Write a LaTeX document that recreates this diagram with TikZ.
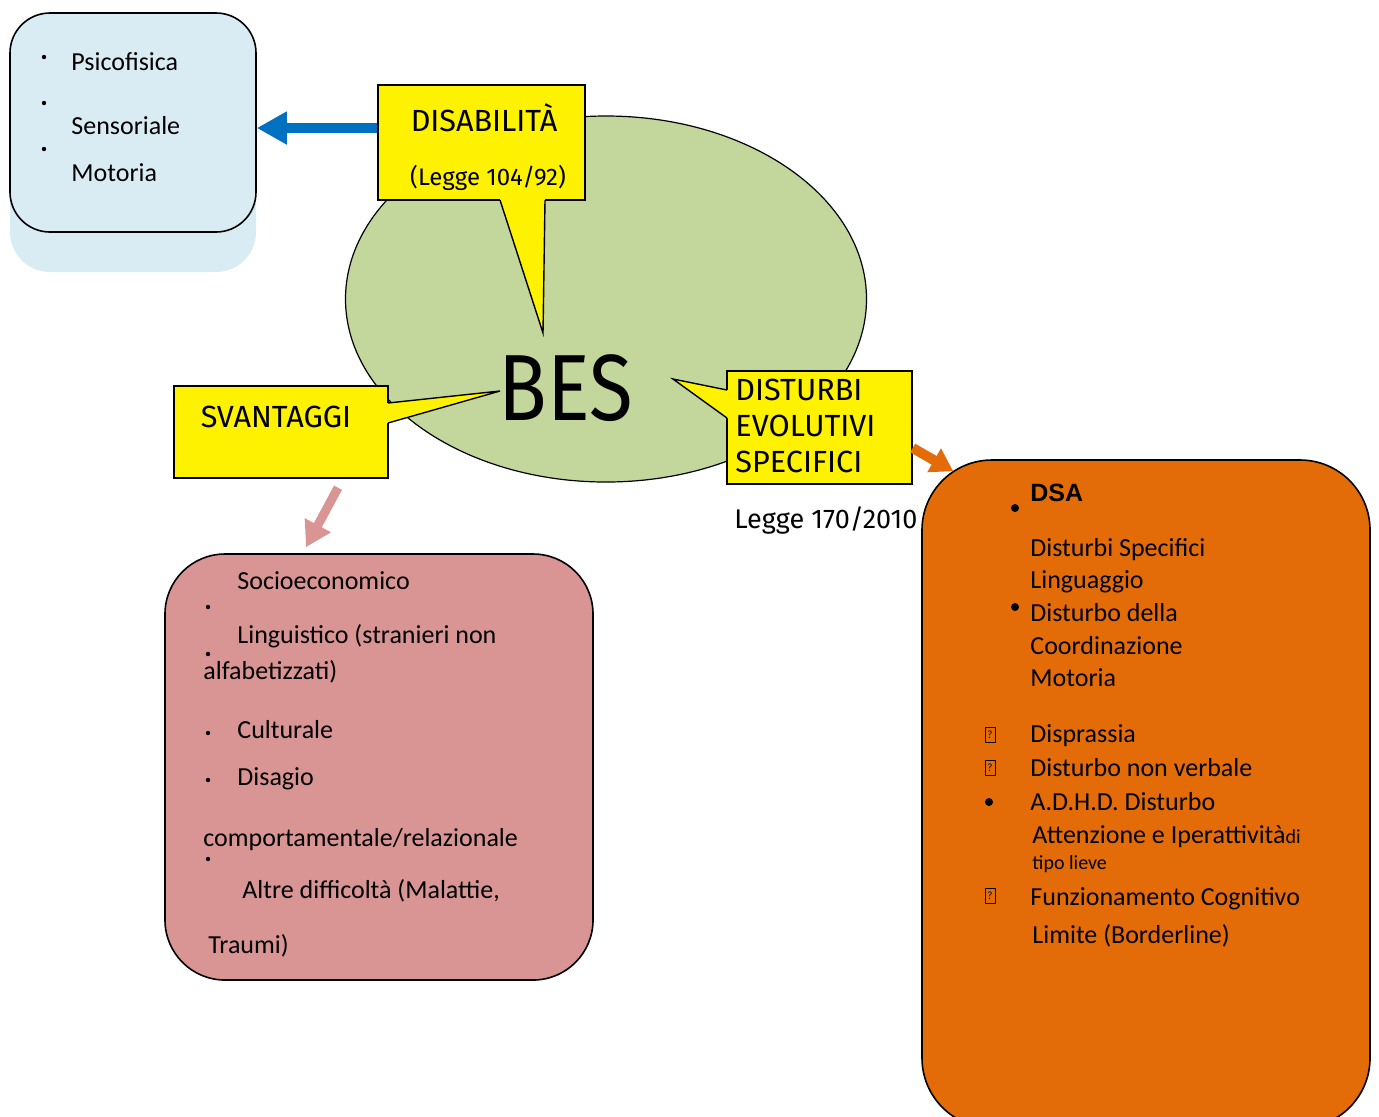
\documentclass[tikz,border=0pt]{standalone}
\usepackage{fontspec}
\setmainfont{Carlito}
\newfontfamily\comicfont{Fira Sans}
\newfontfamily\besfont[FakeStretch=0.85]{Fira Sans}
\newfontfamily\arialfont{Liberation Sans}
\usepackage{xcolor}
\usepackage{tikz}
\usetikzlibrary{arrows.meta,positioning}
\definecolor{lblue}{RGB}{218,236,243}
\definecolor{besgreen}{RGB}{195,214,155}
\definecolor{arrblue}{RGB}{0,112,192}
\definecolor{pinkbox}{RGB}{217,149,148}
\definecolor{orbox}{RGB}{227,108,9}
\tikzset{
  bbox/.style={draw=black, line width=0.8pt, rounded corners=20pt, fill=lblue, minimum width=123pt, minimum height=109.5pt},
  bshadow/.style={fill=lblue, rounded corners=20pt, minimum width=123pt, minimum height=129.5pt},
  pbox/.style={draw=black, line width=0.8pt, rounded corners=30pt, fill=pinkbox, minimum width=214pt, minimum height=213pt},
  obox/.style={draw=black, line width=0.8pt, rounded corners=35pt, fill=orbox, minimum width=224pt, minimum height=334pt},
  besell/.style={ellipse, draw=black, line width=0.6pt, fill=besgreen, minimum width=260.5pt, minimum height=183pt},
  ybox/.style={draw=black, line width=0.7pt, fill=yellow},
  tailline/.style={draw=black, line width=0.7pt, line join=miter},
  ytxt/.style={inner sep=0pt, font=\comicfont\fontsize{15.3}{18}\selectfont},
  ysmall/.style={inner sep=0pt, font=\comicfont\fontsize{12}{14}\selectfont},
  itm/.style={anchor=base west, inner sep=0pt, font=\fontsize{13}{15}\selectfont},
  qbox/.style={draw=black, line width=0.3pt, inner sep=0pt, minimum width=5pt, minimum height=7.5pt, font=\fontsize{5.5}{6}\selectfont},
  barr/.style={-{Triangle[length=15pt,width=15.5pt]}, line width=5pt, arrblue},
  parr/.style={-{Triangle[length=12.5pt,width=14pt]}, line width=4.5pt, pinkbox},
  oarr/.style={-{Triangle[length=11pt,width=13pt]}, line width=5pt, orbox}
}
\usetikzlibrary{shapes.geometric}

\begin{document}
\begin{tikzpicture}[x=0.5pt, y=-0.5pt]
\useasboundingbox (0,0) rectangle (1379,1116);
\clip (0,0) rectangle (1379,1116);

% centre
\node[besell] (bes) at (606,299) {};

% disabilita
\node[bshadow] (physsh) at (133,142.5) {};
\node[bbox] (phys) at (133,122.5) {};
\fill (44,57) circle (1.1pt); \fill (44,103) circle (1.1pt); \fill (44,149) circle (1.1pt);
\node[itm] (psico) at (71,70) {Psicofisica};
\node[itm] (senso) at (71,134) {Sensoriale};
\node[itm] (moto) at (71,181) {Motoria};

\node[ybox, minimum width=103.5pt, minimum height=57.5pt] (disab) at (481.5,142.5) {};
\fill[yellow] (500,197) -- (500,200) -- (543,333) -- (545,200) -- (545,197) -- cycle;
\draw[tailline] (500,200) -- (543,333) -- (545,200);
\node[ytxt, anchor=base] (disabT) at (484,131) {DISABILITÀ};
\node[ysmall, anchor=base] (legge1) at (488,185) {(Legge 104/92)};
\draw[barr] ([yshift=7.25pt]disab.west) -- ([yshift=-2.75pt]phys.east);

% svantaggi
\node[ybox, minimum width=107pt, minimum height=46pt] (svant) at (281,432) {};
\fill[yellow] (385,403) -- (388,403) -- (500,391) -- (388,423) -- (385,423) -- cycle;
\draw[tailline] (388,403) -- (500,391) -- (388,423);
\node[ytxt, anchor=base] (svantT) at (276,427) {SVANTAGGI};

\node[pbox] (svbox) at (379,767) {};
\draw[parr] ([xshift=28.5pt,yshift=-4.5pt]svant.south) -- ([xshift=-36.5pt,yshift=3pt]svbox.north);
\foreach \yy in {607,654,733,780,859} \fill (208,\yy) circle (1.1pt);
\node[itm] (socio) at (237,589) {Socioeconomico};
\node[itm] (lingu) at (237,643) {Linguistico (stranieri non};
\node[itm] (alfa) at (203,679) {alfabetizzati)};
\node[itm] (cult) at (237,738) {Culturale};
\node[itm] (disag) at (237,785) {Disagio};
\node[itm] (compo) at (203,846) {comportamentale/relazionale};
\node[itm] (altre) at (242,898) {Altre difficoltà (Malattie,};
\node[itm] (traumi) at (208,953) {Traumi)};

% disturbi evolutivi
\node[ybox, minimum width=92.5pt, minimum height=56.5pt] (dse) at (819.5,427.5) {};
\fill[yellow] (730,390) -- (727,390) -- (673,379) -- (727,418) -- (730,418) -- cycle;
\draw[tailline] (727,390) -- (673,379) -- (727,418);
\node[ytxt, anchor=base west] (dseA) at (735,400) {DISTURBI};
\node[ytxt, anchor=base west] (dseB) at (735,436) {EVOLUTIVI};
\node[ytxt, anchor=base west] (dseC) at (735,472) {SPECIFICI};
\node[ysmall, anchor=base west, font=\comicfont\fontsize{13.5}{15}\selectfont] (legge2) at (734,528) {Legge 170/2010};

\node[obox] (dsa) at (1146,794) {};
\draw[oarr] ([yshift=-10.25pt]dse.east) -- ([xshift=16pt,yshift=-6pt]dsa.north west);
\fill (1015,508) circle (2pt); \fill (1015,607) circle (2pt); \fill (989,802) circle (2pt);
\node[itm, font=\arialfont\bfseries\fontsize{12.5}{15}\selectfont] (dsaT) at (1030,501) {DSA};
\node[itm] (dsa1) at (1030,556) {Disturbi Specifici};
\node[itm] (dsa2) at (1030,588) {Linguaggio};
\node[itm] (dcm1) at (1030,621) {Disturbo della};
\node[itm] (dcm2) at (1030,654) {Coordinazione};
\node[itm] (dcm3) at (1030,686) {Motoria};
\node[qbox] (q1) at (990,735) {?};
\node[itm] (dispr) at (1030,742) {Disprassia};
\node[qbox] (q2) at (990,768) {?};
\node[itm] (nverb) at (1030,776) {Disturbo non verbale};
\node[itm] (adhd1) at (1030,810) {A.D.H.D. Disturbo};
\node[itm] (adhd2) at (1032,843) {Attenzione e Iperattività{\fontsize{10}{12}\selectfont di}};
\node[itm, font=\fontsize{10}{12}\selectfont] (adhd3) at (1032,869) {tipo lieve};
\node[qbox] (q3) at (990,896) {?};
\node[itm] (fcl1) at (1030,905) {Funzionamento Cognitivo};
\node[itm] (fcl2) at (1032,943) {Limite (Borderline)};

\node[font=\besfont\fontsize{47}{50}\selectfont, anchor=base, inner sep=0pt] (besT) at (566,420) {BES};
\end{tikzpicture}
\end{document}
